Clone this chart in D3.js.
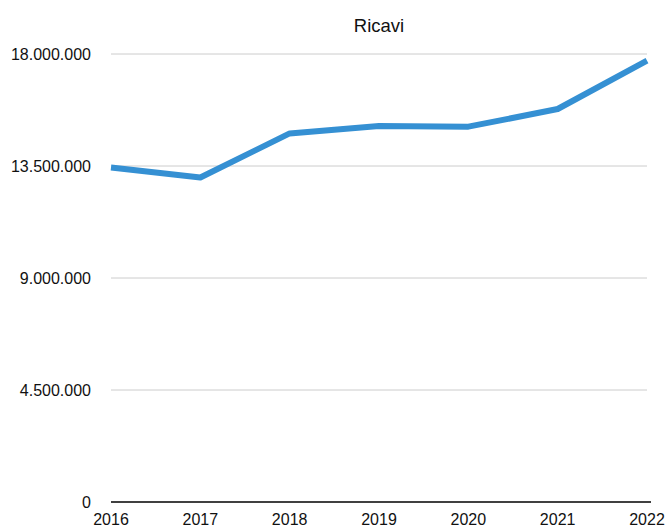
<!DOCTYPE html>
<html>
<head>
<meta charset="utf-8">
<script src="https://cdn.jsdelivr.net/npm/d3@7"></script>
<style>
  html, body { margin: 0; padding: 0; background: #fff; }
  svg { display: block; font-family: "Liberation Sans", Arial, Helvetica, sans-serif; }
</style>
</head>
<body>
<svg id="chart" width="665" height="525"></svg>
<script>
const title = "Ricavi";
const years = ["2016", "2017", "2018", "2019", "2020", "2021", "2022"];
const revenues = [13440000, 13040000, 14810000, 15110000, 15080000, 15790000, 17730000];
const yTicks = [0, 4500000, 9000000, 13500000, 18000000];

const svg = d3.select("#chart");
const plotLeft = 111, plotRight = 647, plotTop = 54, plotBottom = 502;

const x = d3.scalePoint().domain(years).range([plotLeft, plotRight]);
const y = d3.scaleLinear().domain([0, 18000000]).range([plotBottom, plotTop]);

const fmt = v => d3.format(",")(v).replace(/,/g, ".");

// gridlines
svg.append("g")
  .selectAll("line")
  .data(yTicks.filter(d => d > 0))
  .join("line")
  .attr("x1", plotLeft).attr("x2", plotRight)
  .attr("y1", d => y(d)).attr("y2", d => y(d))
  .attr("stroke", "#cccccc").attr("stroke-width", 1);

// y labels
svg.append("g")
  .selectAll("text")
  .data(yTicks)
  .join("text")
  .attr("x", 91)
  .attr("y", d => y(d))
  .attr("dy", "0.36em")
  .attr("text-anchor", "end")
  .attr("font-size", 16)
  .attr("fill", "#111")
  .text(d => fmt(d));

// x axis line
svg.append("line")
  .attr("x1", plotLeft).attr("x2", 651)
  .attr("y1", y(0)).attr("y2", y(0))
  .attr("stroke", "#000").attr("stroke-width", 1.5);

// x labels
svg.append("g")
  .selectAll("text")
  .data(years)
  .join("text")
  .attr("x", d => x(d))
  .attr("y", 525)
  .attr("text-anchor", "middle")
  .attr("font-size", 16)
  .attr("fill", "#111")
  .text(d => d);

// line
const line = d3.line()
  .x((d, i) => x(years[i]))
  .y(d => y(d));

svg.append("path")
  .datum(revenues)
  .attr("d", line)
  .attr("fill", "none")
  .attr("stroke", "#3590d3")
  .attr("stroke-width", 6)
  .attr("stroke-linejoin", "round");

// title
svg.append("text")
  .attr("x", (plotLeft + plotRight) / 2)
  .attr("y", 32)
  .attr("text-anchor", "middle")
  .attr("font-size", 18.5)
  .attr("fill", "#111")
  .text(title);
</script>
</body>
</html>
